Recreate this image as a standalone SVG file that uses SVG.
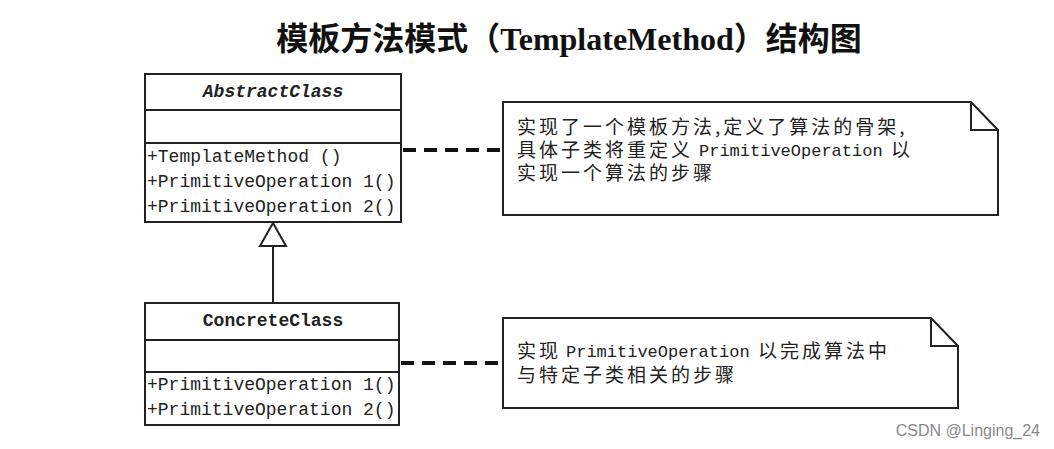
<svg xmlns="http://www.w3.org/2000/svg" width="1054" height="449" viewBox="0 0 1054 449">
<style>
.box{fill:#fff;stroke:#222;stroke-width:2}
.ln{stroke:#222;stroke-width:2;fill:none}
.mono{font-family:"Liberation Mono","DejaVu Sans Mono",monospace;font-size:18px;fill:#222}
.cn{font-family:"Noto Sans CJK SC",sans-serif;font-size:19px;fill:#222;letter-spacing:3px}
.cm{font-family:"Liberation Mono",monospace;font-size:17px;fill:#222}
.dash{stroke:#111;stroke-width:4;stroke-dasharray:13 8;fill:none}
</style>
<rect width="1054" height="449" fill="#fff"/>
<text x="569" y="50" text-anchor="middle" font-family="'Liberation Serif','Noto Sans CJK SC',serif" font-weight="bold" font-size="32" fill="#111"><tspan font-family="'Noto Sans CJK SC',sans-serif">模板方法模式（</tspan>TemplateMethod<tspan font-family="'Noto Sans CJK SC',sans-serif">）结构图</tspan></text>
<g id="connectors">
<line class="dash" x1="403" y1="150" x2="503" y2="150"/>
<line class="dash" x1="401" y1="363" x2="503" y2="363"/>
<line class="ln" x1="273" y1="246" x2="273" y2="303"/>
<polygon points="273,223 260,246 286,246" fill="#fff" stroke="#222" stroke-width="2"/>
</g>
<g id="AbstractClass">
<rect class="box" x="145" y="74" width="256" height="148"/>
<line class="ln" x1="145" y1="110" x2="401" y2="110"/>
<line class="ln" x1="145" y1="143" x2="401" y2="143"/>
<text class="mono" x="273" y="97" text-anchor="middle" font-style="italic" font-weight="bold">AbstractClass</text>
<text class="mono" x="147" y="162">+TemplateMethod ()</text>
<text class="mono" x="147" y="187">+PrimitiveOperation 1()</text>
<text class="mono" x="147" y="212">+PrimitiveOperation 2()</text>
</g>
<g id="ConcreteClass">
<rect class="box" x="145" y="303" width="254" height="122"/>
<line class="ln" x1="145" y1="340" x2="399" y2="340"/>
<line class="ln" x1="145" y1="372" x2="399" y2="372"/>
<text class="mono" x="273" y="326" text-anchor="middle" font-weight="bold">ConcreteClass</text>
<text class="mono" x="147" y="390">+PrimitiveOperation 1()</text>
<text class="mono" x="147" y="415">+PrimitiveOperation 2()</text>
</g>
<g id="note1">
<path class="box" d="M503,102 H971 L998,130 V215 H503 Z"/>
<path class="ln" d="M971,102 V130 H998"/>
<text class="cn" x="517" y="134">实现了一个模板方法,定义了算法的骨架,</text>
<text class="cn" x="517" y="157">具体子类将重定义</text>
<text class="cm" x="699" y="156">PrimitiveOperation</text>
<text class="cn" x="891" y="157">以</text>
<text class="cn" x="517" y="180">实现一个算法的步骤</text>
</g>
<g id="note2">
<path class="box" d="M503,318 H931 L958,346 V408 H503 Z"/>
<path class="ln" d="M931,318 V346 H958"/>
<text class="cn" x="517" y="358">实现</text>
<text class="cm" x="566" y="357">PrimitiveOperation</text>
<text class="cn" x="758" y="358">以完成算法中</text>
<text class="cn" x="517" y="382">与特定子类相关的步骤</text>
</g>
<text x="1040" y="436" text-anchor="end" font-family="'Liberation Sans',sans-serif" font-size="16" fill="#888">CSDN @Linging_24</text>
</svg>
